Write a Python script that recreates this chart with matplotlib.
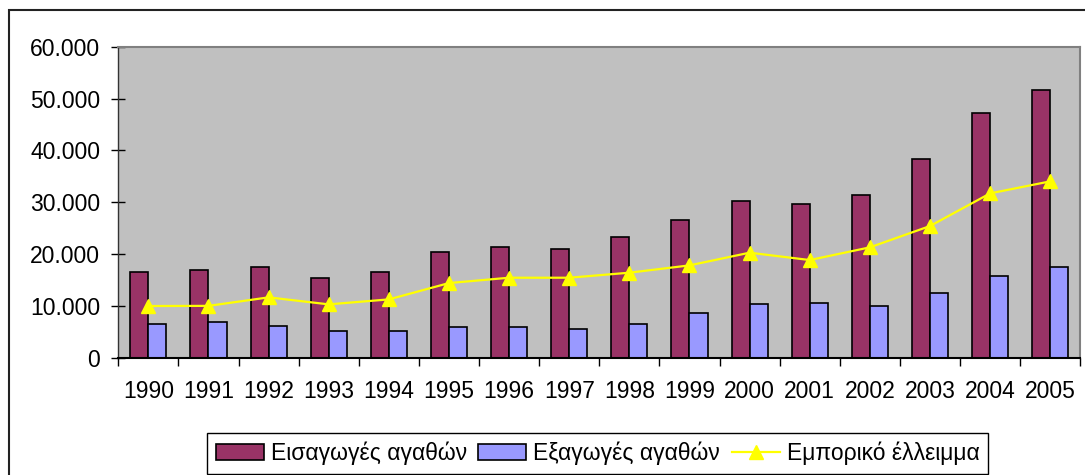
import numpy as np
import matplotlib
matplotlib.use("Agg")
import matplotlib.pyplot as plt
from matplotlib.patches import Rectangle
from matplotlib.ticker import FuncFormatter, FixedLocator

plt.rcParams['font.family'] = ['Liberation Sans', 'DejaVu Sans']

# Δεδομένα (εκατ. ευρώ)
years = ['1990', '1991', '1992', '1993', '1994', '1995', '1996', '1997',
         '1998', '1999', '2000', '2001', '2002', '2003', '2004', '2005']
imports = [16530, 16850, 17490, 15430, 16530, 20320, 21290, 20970,
           23350, 26560, 30290, 29650, 31390, 38260, 47270, 51640]
exports = [6500, 6820, 6170, 5080, 5080, 5850, 5850, 5470,
           6500, 8550, 10290, 10610, 9970, 12410, 15820, 17490]
deficit = [9970, 10000, 11640, 10290, 11250, 14400, 15430, 15430,
           16400, 17810, 20260, 18840, 21290, 25400, 31700, 34020]
labels = ['Εισαγωγές αγαθών', 'Εξαγωγές αγαθών', 'Εμπορικό έλλειμμα']

W, H, DPI = 1085, 475, 100
FS = 16.5
fig = plt.figure(figsize=(W / DPI, H / DPI), dpi=DPI)
ax = fig.add_axes([118.3 / W, 1 - 357.7 / H, (1080.3 - 118.3) / W, (357.7 - 46.7) / H])
ax.set_facecolor('#C0C0C0')

x = np.arange(len(years))
bw = 0.3
b1 = ax.bar(x - bw / 2, imports, bw, color='#993366', edgecolor='black', linewidth=1.2, zorder=2)
b2 = ax.bar(x + bw / 2, exports, bw, color='#9999FF', edgecolor='black', linewidth=1.2, zorder=2)
ln, = ax.plot(x, deficit, color='#FFFF00', linewidth=1.6, marker='^', markersize=10,
              markeredgecolor='#FFFF00', zorder=3)

ax.set_xlim(-0.5, len(years) - 0.5)
ax.set_ylim(0, 60000)
ax.set_yticks(np.arange(0, 60001, 10000))
ax.yaxis.set_major_formatter(FuncFormatter(lambda v, p: f"{int(v):,}".replace(',', '.')))
ax.tick_params(axis='y', direction='inout', length=10, width=1, labelsize=FS, pad=8)

ax.set_xticks(x)
ax.set_xticklabels(years)
ax.xaxis.set_minor_locator(FixedLocator(np.arange(-0.5, len(years), 1.0)))
ax.tick_params(axis='x', which='major', length=0, labelsize=FS, pad=16)
ax.tick_params(axis='x', which='minor', direction='out', length=5.5, width=1)

for s in ['top', 'right']:
    ax.spines[s].set_color('#808080')
    ax.spines[s].set_linewidth(1.5)
ax.spines['left'].set_color('#333333')
ax.spines['left'].set_linewidth(1)
ax.spines['bottom'].set_color('black')
ax.spines['bottom'].set_linewidth(1.5)

# περίγραμμα περιοχής γραφήματος
fig.patches.append(Rectangle((9 / W, -0.05), 1.1, 1 - 9.5 / H + 0.05, transform=fig.transFigure,
                             fill=False, edgecolor='#222222', linewidth=1.5, clip_on=False))

leg = fig.legend([b1, b2, ln], labels, ncol=3, loc='center',
                 bbox_to_anchor=((204 + 991) / 2 / W, 1 - (433 + 474) / 2 / H),
                 fontsize=FS, frameon=True, fancybox=False, framealpha=1,
                 edgecolor='black', handlelength=2.1, handletextpad=0.3,
                 columnspacing=0.5, borderpad=0.4)
leg.get_frame().set_linewidth(1)

fig.savefig('out.png', dpi=DPI)
